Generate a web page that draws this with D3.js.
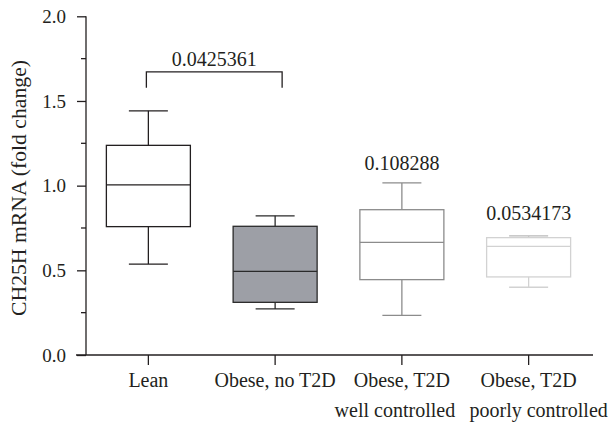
<!DOCTYPE html>
<html lang="en">
<head>
    <meta charset="UTF-8">
    <title>CH25H mRNA</title>
    <script src="https://cdn.jsdelivr.net/npm/d3@7"></script>
    <style>
        body { margin: 0; background: #fff; }
        text { font-family: "Liberation Serif", "Times New Roman", serif; fill: #231f20; }
    </style>
</head>
<body>
    <script>
        // groups + box stats
        var labelLine1 = ["Lean", "Obese, no T2D", "Obese, T2D", "Obese, T2D"];
        var labelLine2 = ["", "", "well controlled", "poorly controlled"];
        var whiskerMin = [0.537, 0.272, 0.234, 0.400];
        var q1 = [0.758, 0.311, 0.445, 0.461];
        var median = [1.004, 0.494, 0.665, 0.642];
        var q3 = [1.238, 0.760, 0.858, 0.693];
        var whiskerMax = [1.442, 0.822, 1.016, 0.703];
        // p values vs Lean
        var pValues = ["0.0425361", "0.108288", "0.0534173"];
        var yTicks = [0, 0.5, 1.0, 1.5, 2.0];
        var yMinorTicks = [0.25, 0.75, 1.25, 1.75];

        var w = 615, h = 427;
        var svg = d3.select("body").append("svg")
            .attr("width", w)
            .attr("height", h);

        var left = 86, bottom = 355;

        var x = d3.scaleBand()
            .domain(d3.range(labelLine1.length))
            .range([85, 592])
            .padding(0);
        var y = d3.scaleLinear()
            .domain([0, 2])
            .range([bottom, 16.3]);

        var fills = ["#ffffff", "#9d9fa6", "#ffffff", "#ffffff"];
        var strokes = ["#231f20", "#2a2a2a", "#8c8c8c", "#d2d2d2"];
        var boxW = 84, capW = 39;
        function cx(i) { return x(i) + x.bandwidth() / 2; }

        // y axis
        var yAxis = svg.append("g")
            .attr("transform", "translate(" + left + ",0)")
            .call(d3.axisLeft(y).tickValues(yTicks).tickSize(9).tickPadding(11)
                .tickFormat(d3.format(".1f")));
        yAxis.selectAll("text").attr("font-size", "19px").attr("font-family", null);
        yAxis.select(".domain").remove();
        yAxis.selectAll("line").attr("stroke", "#231f20").attr("stroke-width", 1.3);
        svg.append("g")
            .selectAll("line").data(yMinorTicks).enter().append("line")
            .attr("x1", left - 5).attr("x2", left)
            .attr("y1", function(d) { return y(d); })
            .attr("y2", function(d) { return y(d); })
            .attr("stroke", "#231f20").attr("stroke-width", 1.3);
        svg.append("line")
            .attr("x1", left).attr("x2", left)
            .attr("y1", y(2)).attr("y2", bottom)
            .attr("stroke", "#231f20").attr("stroke-width", 1.3);

        // x axis
        var xAxis = svg.append("g")
            .attr("transform", "translate(0," + bottom + ")")
            .call(d3.axisBottom(x).tickSize(10).tickFormat(""));
        xAxis.select(".domain").remove();
        xAxis.selectAll("line").attr("stroke", "#231f20").attr("stroke-width", 1.3);
        svg.append("line")
            .attr("x1", 76).attr("x2", 593)
            .attr("y1", bottom).attr("y2", bottom)
            .attr("stroke", "#231f20").attr("stroke-width", 1.3);

        var line2dx = [0, 0, -7, 10];
        var labels = svg.append("g").selectAll("g").data(labelLine1).enter().append("g");
        labels.append("text")
            .attr("x", function(d, i) { return cx(i); })
            .attr("y", 387)
            .attr("text-anchor", "middle")
            .attr("font-size", "20px")
            .text(function(d) { return d; });
        labels.append("text")
            .attr("x", function(d, i) { return cx(i) + line2dx[i]; })
            .attr("y", 417)
            .attr("text-anchor", "middle")
            .attr("font-size", "20px")
            .text(function(d, i) { return labelLine2[i]; });

        // y title
        svg.append("text")
            .attr("transform", "translate(26,188) rotate(-90)")
            .attr("text-anchor", "middle")
            .attr("font-size", "21.7px")
            .text("CH25H mRNA (fold change)");

        // boxes
        var boxes = svg.append("g").selectAll("g").data(median).enter().append("g");
        boxes.append("line")
            .attr("x1", function(d, i) { return cx(i); })
            .attr("x2", function(d, i) { return cx(i); })
            .attr("y1", function(d, i) { return y(whiskerMin[i]); })
            .attr("y2", function(d, i) { return y(whiskerMax[i]); })
            .attr("stroke", function(d, i) { return strokes[i]; })
            .attr("stroke-width", 1.3);
        boxes.append("line")
            .attr("x1", function(d, i) { return cx(i) - capW / 2; })
            .attr("x2", function(d, i) { return cx(i) + capW / 2; })
            .attr("y1", function(d, i) { return y(whiskerMin[i]); })
            .attr("y2", function(d, i) { return y(whiskerMin[i]); })
            .attr("stroke", function(d, i) { return strokes[i]; })
            .attr("stroke-width", 1.3);
        boxes.append("line")
            .attr("x1", function(d, i) { return cx(i) - capW / 2; })
            .attr("x2", function(d, i) { return cx(i) + capW / 2; })
            .attr("y1", function(d, i) { return y(whiskerMax[i]); })
            .attr("y2", function(d, i) { return y(whiskerMax[i]); })
            .attr("stroke", function(d, i) { return i == 3 ? "#b8b8b8" : strokes[i]; })
            .attr("stroke-width", 1.3);
        boxes.append("rect")
            .attr("x", function(d, i) { return cx(i) - boxW / 2; })
            .attr("width", boxW)
            .attr("y", function(d, i) { return y(q3[i]); })
            .attr("height", function(d, i) { return y(q1[i]) - y(q3[i]); })
            .attr("fill", function(d, i) { return fills[i]; })
            .attr("stroke", function(d, i) { return strokes[i]; })
            .attr("stroke-width", 1.3);
        boxes.append("line")
            .attr("x1", function(d, i) { return cx(i) - boxW / 2; })
            .attr("x2", function(d, i) { return cx(i) + boxW / 2; })
            .attr("y1", function(d) { return y(d); })
            .attr("y2", function(d) { return y(d); })
            .attr("stroke", function(d, i) { return strokes[i]; })
            .attr("stroke-width", 1.3);

        // bracket Lean vs Obese no T2D
        var bx1 = cx(0) - 2, bx2 = cx(1) + 7;
        var by = y(whiskerMax[0]) - 39;
        svg.append("path")
            .attr("d", "M" + bx1 + "," + (by + 16) + "V" + by + "H" + bx2 + "V" + (by + 16))
            .attr("fill", "none")
            .attr("stroke", "#231f20")
            .attr("stroke-width", 1.3);
        svg.append("text")
            .attr("x", (bx1 + bx2) / 2)
            .attr("y", by - 6)
            .attr("text-anchor", "middle")
            .attr("font-size", "20px")
            .text(pValues[0]);

        // other p values over their boxes
        var pOffset = [13, 16];
        svg.append("g").selectAll("text").data(pValues.slice(1)).enter().append("text")
            .attr("x", function(d, i) { return cx(i + 2); })
            .attr("y", function(d, i) { return y(whiskerMax[i + 2]) - pOffset[i]; })
            .attr("text-anchor", "middle")
            .attr("font-size", "20px")
            .text(function(d) { return d; });
    </script>
</body>
</html>
